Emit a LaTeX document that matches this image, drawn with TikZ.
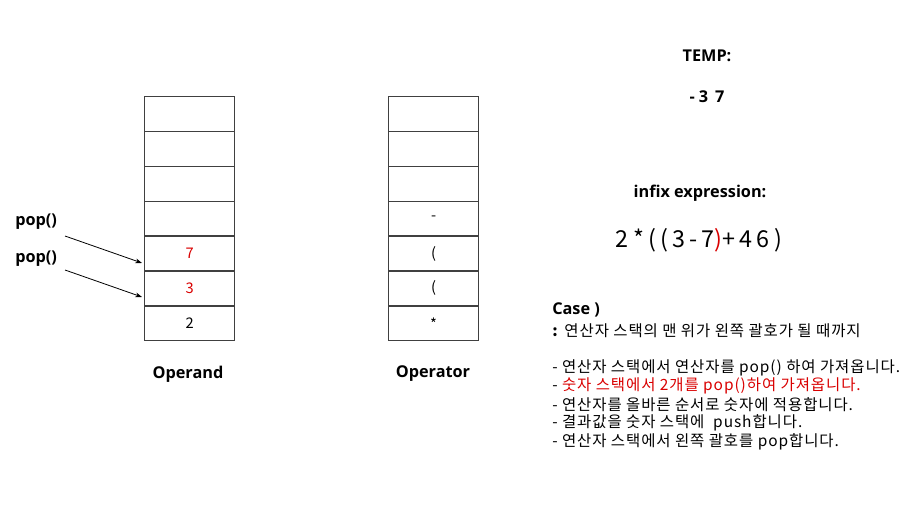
\documentclass[tikz,border=0pt]{standalone}
\usepackage{fontspec}
\setmainfont{Open Sans}
\newfontfamily\kr{Noto Sans CJK KR}
\newfontfamily\krw[LetterSpace=6]{Noto Sans CJK KR}
\newfontfamily\krx[LetterSpace=18]{Noto Sans CJK KR}
\usetikzlibrary{arrows.meta}
\tikzset{
  cell/.style={draw=black!75, line width=0.9pt, minimum width=67.5pt, minimum height=26.25pt, inner sep=0pt, anchor=north west},
  val/.style={font=\kr\fontsize{11}{13}\selectfont},
  lbl/.style={font=\bfseries\fontsize{12.2}{14}\selectfont, inner sep=0pt},
  txt/.style={font=\krw\fontsize{11.6}{13}\selectfont, inner sep=0pt, anchor=west},
  arr/.style={-{Stealth[length=5pt,width=3.5pt]}, line width=0.6pt}
}
\begin{document}
\begin{tikzpicture}[x=0.75pt,y=-0.75pt]
\useasboundingbox (0,0) rectangle (914,510);
% stacks
\foreach \i in {0,...,6} {
  \node[cell] (a\i) at (144,{96+\i*34.86}) {};
  \node[cell] (b\i) at (388,{96+\i*34.86}) {};
}
\node[val, text=red!85!black] at (a4.center) {7};
\node[val, text=red!85!black] at (a5.center) {3};
\node[val] at (a6.center) {2};
\node[val] at (b3.center) {-};
\node[val] at (b4.center) {(};
\node[val] at (b5.center) {(};
\node[val] at (b6.center) {*};
\node[lbl] (opd) at (188,374) {Operand};
\node[lbl] (opr) at (433,374) {Operator};
% pops
\node[lbl, anchor=west] (p1) at (15,222) {pop()};
\node[lbl, anchor=west] (p2) at (15,259) {pop()};
\coordinate (p1s) at (65,236);
\coordinate (p2s) at (65,270);
\coordinate (a4w) at (142,263);
\coordinate (a5w) at (142,297);
\draw[arr] (p1s) -- (a4w);
\draw[arr] (p2s) -- (a5w);
% right side
\node[lbl] (temp) at (707,56) {TEMP:};
\node[lbl] (tv) at (707,97) {- 3\ \,7};
\node[lbl] (inf) at (700,193) {infix expression:};
\node[font=\krx\fontsize{17.5}{20}\selectfont, inner sep=0pt] (expr) at (699,240) {2*((3-7{\color{red!85!black})}+46)};
\node[lbl, anchor=west] (case) at (552,310) {Case )};
\node[txt] (c0) at (552,331) {\textbf{:} 연산자 스택의 맨 위가 왼쪽 괄호가 될 때까지};
\node[txt] (c1) at (552,368) {- 연산자 스택에서 연산자를 pop() 하여 가져옵니다.};
\node[txt] (c2) at (552,386) {- \textcolor{red!85!black}{숫자 스택에서 2개를 pop()하여 가져옵니다.}};
\node[txt] (c3) at (552,405) {- 연산자를 올바른 순서로 숫자에 적용합니다.};
\node[txt] (c4) at (552,423) {- 결과값을 숫자 스택에 \ push합니다.};
\node[txt] (c5) at (552,442) {- 연산자 스택에서 왼쪽 괄호를 pop합니다.};
\end{tikzpicture}
\end{document}
